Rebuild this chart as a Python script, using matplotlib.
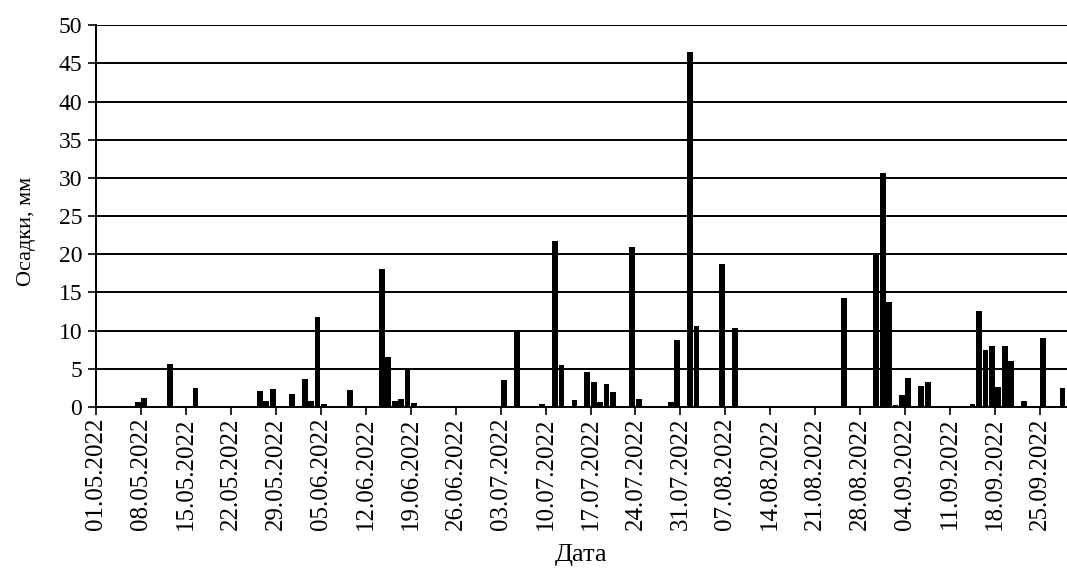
import datetime as dt
import matplotlib
matplotlib.use("Agg")
import matplotlib.pyplot as plt
import matplotlib.dates as mdates

# daily precipitation, only days with rain (mm)
rain_dates = [
    "07.05.2022", "08.05.2022", "12.05.2022", "16.05.2022",
    "26.05.2022", "27.05.2022", "28.05.2022", "31.05.2022",
    "02.06.2022", "03.06.2022", "04.06.2022", "05.06.2022",
    "09.06.2022", "14.06.2022", "15.06.2022", "16.06.2022",
    "17.06.2022", "18.06.2022", "19.06.2022",
    "03.07.2022", "05.07.2022", "09.07.2022", "11.07.2022",
    "12.07.2022", "14.07.2022", "16.07.2022", "17.07.2022",
    "18.07.2022", "19.07.2022", "20.07.2022", "23.07.2022",
    "24.07.2022", "29.07.2022", "30.07.2022",
    "01.08.2022", "02.08.2022", "06.08.2022", "08.08.2022",
    "25.08.2022", "30.08.2022", "31.08.2022",
    "01.09.2022", "02.09.2022", "03.09.2022", "04.09.2022",
    "06.09.2022", "07.09.2022", "14.09.2022", "15.09.2022",
    "16.09.2022", "17.09.2022", "18.09.2022", "19.09.2022",
    "20.09.2022", "22.09.2022", "25.09.2022", "28.09.2022",
]
rain_mm = [
    0.6, 1.2, 5.6, 2.5,
    2.1, 0.7, 2.3, 1.7,
    3.7, 0.8, 11.8, 0.4,
    2.2, 18.0, 6.5, 0.7,
    1.0, 4.9, 0.5,
    3.5, 10.0, 0.4, 21.7,
    5.5, 0.9, 4.5, 3.3,
    0.6, 3.0, 2.0, 21.0,
    1.0, 0.6, 8.8,
    46.5, 10.6, 18.7, 10.3,
    14.3, 20.2, 30.7,
    13.8, 0.3, 1.6, 3.8,
    2.7, 3.2, 0.4, 12.5,
    7.5, 8.0, 2.6, 8.0,
    6.0, 0.8, 9.0, 2.5,
]

start = dt.datetime(2022, 5, 1)
tick_dates = [start + dt.timedelta(days=7 * i) for i in range(22)]

plt.rcParams["font.family"] = ["Liberation Serif", "DejaVu Serif"]

fig = plt.figure(figsize=(10.67, 5.73), dpi=100)
ax = fig.add_axes([0.09, 0.29, 0.91, 0.666])

x = [dt.datetime.strptime(d, "%d.%m.%Y") + dt.timedelta(hours=12) for d in rain_dates]
ax.bar(x, rain_mm, width=0.9, color="black", zorder=3)

ax.set_xlim(start, start + dt.timedelta(days=151.2))
ax.set_ylim(0, 50)
ax.set_yticks(range(0, 51, 5))
ax.yaxis.grid(True, color="black", linewidth=1.4)
ax.set_axisbelow(True)

ax.set_xticks(tick_dates)
ax.xaxis.set_major_formatter(mdates.DateFormatter("%d.%m.%Y"))
plt.setp(ax.get_xticklabels(), rotation=90)

ax.tick_params(axis="both", length=6, width=1.2, color="black")
ax.tick_params(axis="y", labelsize=17, pad=4)
ax.tick_params(axis="x", labelsize=18, pad=2)

for side in ["top", "right"]:
    ax.spines[side].set_visible(False)
ax.spines["left"].set_linewidth(1.4)
ax.spines["bottom"].set_linewidth(1.4)

ax.set_xlabel("Дата", fontsize=19, labelpad=10)
ax.set_ylabel("Осадки, мм", fontsize=16)
ax.yaxis.set_label_coords(-0.062, 0.46)

fig.savefig("out.png", dpi=100)
